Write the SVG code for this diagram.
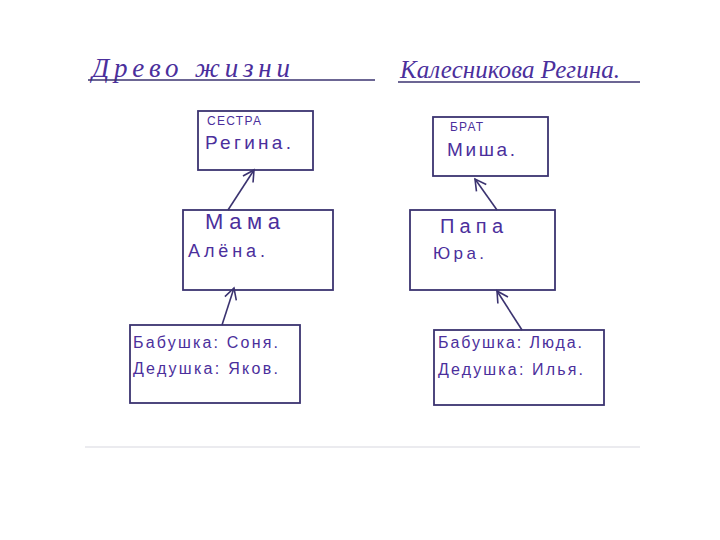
<svg xmlns="http://www.w3.org/2000/svg" width="720" height="540" viewBox="0 0 720 540">
<style>
.box{fill:none;stroke:#3b3370;stroke-width:1.8}
.t{font-family:"Liberation Sans","DejaVu Sans",sans-serif;font-size:16px;fill:#4b2f9c}
.ts{font-family:"Liberation Sans","DejaVu Sans",sans-serif;font-size:12px;fill:#4b2f9c}
.ti{font-family:"Liberation Serif","DejaVu Serif",serif;font-style:italic;font-size:27px;fill:#4b2f9c}
.ln{stroke:#3b3370;stroke-width:1.5;fill:none}
.ar{stroke:#3b3370;stroke-width:1.6;fill:none}
</style>
<defs>
<marker id="ah" markerWidth="14" markerHeight="14" refX="12" refY="7" orient="auto" markerUnits="userSpaceOnUse">
<path d="M1,1 L12,7 L1,13" fill="none" stroke="#3b3370" stroke-width="1.6"/>
</marker>
</defs>
<rect width="720" height="540" fill="#fff"/>
<g id="title">
<text class="ti" x="92" y="77" textLength="198" lengthAdjust="spacing">Древо жизни</text>
<line class="ln" x1="88" y1="80" x2="375" y2="80"/>
<text class="ti" x="400" y="78" style="font-size:25px" textLength="220" lengthAdjust="spacing">Калесникова Регина.</text>
<line class="ln" x1="398" y1="82" x2="640" y2="82"/>
<line x1="85" y1="447" x2="640" y2="447" stroke="#e4e4ea" stroke-width="1.5"/>
</g>
<g id="sister">
<rect class="box" x="198" y="111" width="115" height="59"/>
<text class="ts" x="207" y="125" textLength="54" lengthAdjust="spacing">СЕСТРА</text>
<text class="t" x="205" y="149" style="font-size:19px" textLength="86" lengthAdjust="spacing">Регина.</text>
</g>
<g id="mother">
<rect class="box" x="183" y="210" width="150" height="80"/>
<text class="t" x="205" y="229" style="font-size:22px" textLength="75" lengthAdjust="spacing">Мама</text>
<text class="t" x="188" y="257" style="font-size:18px" textLength="77" lengthAdjust="spacing">Алёна.</text>
</g>
<g id="grandparents-left">
<rect class="box" x="130" y="325" width="170" height="78"/>
<text class="t" x="133" y="348" textLength="145" lengthAdjust="spacing">Бабушка: Соня.</text>
<text class="t" x="133" y="374" textLength="145" lengthAdjust="spacing">Дедушка: Яков.</text>
</g>
<g id="brother">
<rect class="box" x="433" y="117" width="115" height="59"/>
<text class="ts" x="450" y="131" textLength="33" lengthAdjust="spacing">БРАТ</text>
<text class="t" x="447" y="156" style="font-size:19px" textLength="68" lengthAdjust="spacing">Миша.</text>
</g>
<g id="father">
<rect class="box" x="410" y="210" width="145" height="80"/>
<text class="t" x="440" y="233" style="font-size:20px" textLength="63" lengthAdjust="spacing">Папа</text>
<text class="t" x="433" y="259" style="font-size:17px" textLength="51" lengthAdjust="spacing">Юра.</text>
</g>
<g id="grandparents-right">
<rect class="box" x="434" y="330" width="170" height="75"/>
<text class="t" x="438" y="348" textLength="144" lengthAdjust="spacing">Бабушка: Люда.</text>
<text class="t" x="438" y="375" textLength="145" lengthAdjust="spacing">Дедушка: Илья.</text>
</g>
<g id="connectors">
<line class="ar" x1="222" y1="325" x2="234" y2="288" marker-end="url(#ah)"/>
<line class="ar" x1="228" y1="210" x2="254" y2="170" marker-end="url(#ah)"/>
<line class="ar" x1="497" y1="210" x2="475" y2="179" marker-end="url(#ah)"/>
<line class="ar" x1="522" y1="330" x2="497" y2="291" marker-end="url(#ah)"/>
</g>
</svg>
